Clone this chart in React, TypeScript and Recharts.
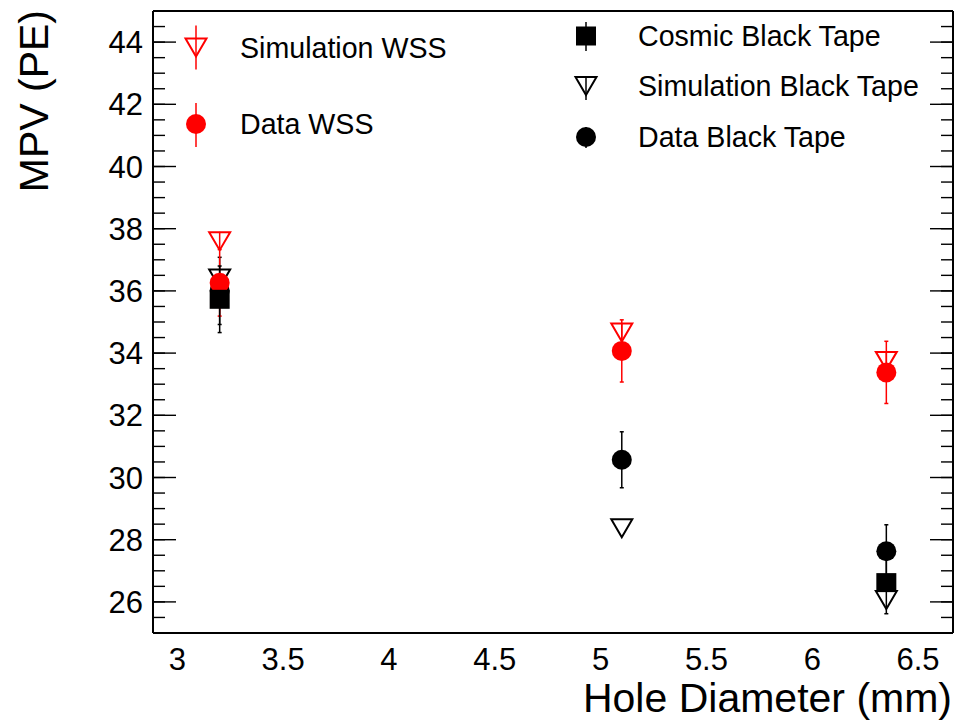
import React from 'react';
import { ScatterChart, Scatter, XAxis, YAxis, ErrorBar, Legend } from 'recharts';

// ---------------- data ----------------
const holeDiameters = [3.2, 5.1, 6.35];
const simWSS = [37.6, 34.66, 33.75];
const simWSSErr = [0.3, 0.3, 0.3];
const dataWSS = [36.26, 34.07, 33.38];
const dataWSSErr = [1.07, 1.0, 1.0];
const cosmicDiameters = [3.2, 6.35];
const cosmicBT = [35.73, 26.62];
const cosmicBTErr = [1.07, 1.0];
const simBT = [36.4, 28.37, 26.06];
const simBTErr = [0, 0, 0];
const dataBT = [36.0, 30.57, 27.63];
const dataBTErr = [1.08, 0.9, 0.85];

const xMajorTicks = [3, 3.5, 4, 4.5, 5, 5.5, 6, 6.5];
const yMajorTicks = [26, 28, 30, 32, 34, 36, 38, 40, 42, 44];
const xMinorTicks = Array.from({ length: 38 }, (_, i) => Math.round((2.9 + i * 0.1) * 10) / 10);
const yMinorTicks = Array.from({ length: 39 }, (_, i) => 25.5 + i * 0.5);

const X_DOMAIN: [number, number] = [2.885, 6.665];
const Y_DOMAIN: [number, number] = [25, 45];

const xTitle = 'Hole Diameter (mm)';
const yTitle = 'MPV (PE)';

const build = (xs: number[], ys: number[], es: number[]) =>
  xs.map((x, i) => ({ x, y: ys[i], err: es[i] }));

// ---------------- layout ----------------
const W = 960;
const H = 721;
const PLOT_LEFT = 153;
const PLOT_TOP = 11;
const PLOT_RIGHT = 953;
const PLOT_BOTTOM = 633;
const FONT = '"Liberation Sans", Arial, Helvetica, sans-serif';
const RED = '#ff0000';
const BLACK = '#000000';

// ---------------- markers ----------------
const drawMarker = (kind: string, color: string, cx: number, cy: number) => {
  if (kind === 'tri') {
    return (
      <polygon
        points={`${cx - 10.5},${cy - 9} ${cx + 10.5},${cy - 9} ${cx},${cy + 9}`}
        fill="none"
        stroke={color}
        strokeWidth={2}
      />
    );
  }
  if (kind === 'sq') {
    return <rect x={cx - 10} y={cy - 9.5} width={20} height={19} fill={color} />;
  }
  return <circle cx={cx} cy={cy} r={10} fill={color} />;
};

const shapeOf = (kind: string, color: string) => (props: any) => {
  const { cx, cy } = props;
  if (cx == null || cy == null) return <g />;
  return drawMarker(kind, color, cx, cy);
};

// ---------------- legend ----------------
const legendEntries = [
  { label: 'Simulation WSS', kind: 'tri', color: RED, mx: 196, my: 47.5, up: 22, down: 22, tx: 240 },
  { label: 'Data WSS', kind: 'circ', color: RED, mx: 196, my: 124, up: 21, down: 23, tx: 240 },
  { label: 'Cosmic Black Tape', kind: 'sq', color: BLACK, mx: 586, my: 36, up: 14, down: 15, tx: 638 },
  { label: 'Simulation Black Tape', kind: 'tri', color: BLACK, mx: 586, my: 86, up: 9, down: 14, tx: 638 },
  { label: 'Data Black Tape', kind: 'circ', color: BLACK, mx: 586, my: 137, up: 10, down: 11, tx: 638 },
];

const LegendContent = () => (
  <svg width={W} height={170} style={{ position: 'absolute', left: 0, top: 0, overflow: 'visible' }}>
    {legendEntries.map((e) => (
      <g key={e.label}>
        <line x1={e.mx} x2={e.mx} y1={e.my - e.up} y2={e.my + e.down} stroke={e.color} strokeWidth={1.5} />
        {drawMarker(e.kind, e.color, e.mx, e.my)}
        <text x={e.tx} y={e.my + 10} fontSize={28.6} fontFamily={FONT} fill="#000">
          {e.label}
        </text>
      </g>
    ))}
  </svg>
);

const tickStyle = { fontSize: 31, fill: '#000', fontFamily: FONT };
const tickLineStyle = { stroke: '#000', strokeWidth: 1.4 };
const frameLine = { stroke: '#000', strokeWidth: 2 };
const noLabel = () => <g />;

const XTitle = () => (
  <text x={PLOT_RIGHT - 1} y={712} textAnchor="end" fontSize={41} fontFamily={FONT} fill="#000">
    {xTitle}
  </text>
);
const YTitle = () => (
  <text
    x={48}
    y={10}
    textAnchor="end"
    transform="rotate(-90, 48, 10)"
    fontSize={41}
    fontFamily={FONT}
    fill="#000"
  >
    {yTitle}
  </text>
);

const common = { type: 'number' as const, interval: 0 as const, tick: noLabel, axisLine: false, tickLine: tickLineStyle, allowDataOverflow: true, mirror: true };

export default function App() {
  return (
    <div style={{ position: 'absolute', left: 0, top: 0, width: W, height: H, background: '#fff' }}>
      <ScatterChart
        width={W}
        height={H}
        margin={{ top: PLOT_TOP, right: W - PLOT_RIGHT, bottom: 0, left: 0 }}
      >
        {/* main labelled axes */}
        <XAxis
          xAxisId="x"
          type="number"
          dataKey="x"
          domain={X_DOMAIN}
          ticks={xMajorTicks}
          interval={0}
          allowDataOverflow
          height={H - PLOT_BOTTOM}
          tickLine={false}
          tickSize={0}
          tickMargin={15}
          axisLine={frameLine}
          tick={tickStyle}
          label={() => <XTitle />}
        />
        <YAxis
          yAxisId="y"
          type="number"
          dataKey="y"
          domain={Y_DOMAIN}
          ticks={yMajorTicks}
          interval={0}
          allowDataOverflow
          width={PLOT_LEFT}
          tickLine={false}
          tickSize={0}
          tickMargin={10}
          axisLine={frameLine}
          tick={tickStyle}
          label={() => <YTitle />}
        />
        {/* inward tick marks: bottom */}
        <XAxis xAxisId="bMaj" orientation="bottom" height={1} domain={X_DOMAIN} ticks={xMajorTicks} tickSize={18} {...common} />
        <XAxis xAxisId="bMin" orientation="bottom" height={1} domain={X_DOMAIN} ticks={xMinorTicks} tickSize={11} {...common} />
        {/* top */}
        <XAxis xAxisId="tMaj" orientation="top" height={1} domain={X_DOMAIN} ticks={xMajorTicks} tickSize={18} {...common} axisLine={frameLine} />
        <XAxis xAxisId="tMin" orientation="top" height={1} domain={X_DOMAIN} ticks={xMinorTicks} tickSize={11} {...common} />
        {/* left */}
        <YAxis yAxisId="lMaj" orientation="left" width={1} domain={Y_DOMAIN} ticks={yMajorTicks} tickSize={23} {...common} />
        <YAxis yAxisId="lMin" orientation="left" width={1} domain={Y_DOMAIN} ticks={yMinorTicks} tickSize={11} {...common} />
        {/* right */}
        <YAxis yAxisId="rMaj" orientation="right" width={1} domain={Y_DOMAIN} ticks={yMajorTicks} tickSize={23} {...common} axisLine={frameLine} />
        <YAxis yAxisId="rMin" orientation="right" width={1} domain={Y_DOMAIN} ticks={yMinorTicks} tickSize={11} {...common} />

        <Legend
          layout="vertical"
          align="center"
          verticalAlign="middle"
          content={() => <LegendContent />}
          wrapperStyle={{ position: 'absolute', left: 0, top: 0, width: W, height: 170 }}
        />

        <Scatter name="Data Black Tape" xAxisId="x" yAxisId="y" data={build(holeDiameters, dataBT, dataBTErr)} shape={shapeOf('circ', BLACK)} isAnimationActive={false}>
          <ErrorBar dataKey="err" direction="y" width={2} stroke={BLACK} strokeWidth={1.5} isAnimationActive={false} />
        </Scatter>
        <Scatter name="Simulation Black Tape" xAxisId="x" yAxisId="y" data={build(holeDiameters, simBT, simBTErr)} shape={shapeOf('tri', BLACK)} isAnimationActive={false} />
        <Scatter name="Simulation WSS" xAxisId="x" yAxisId="y" data={build(holeDiameters, simWSS, simWSSErr)} shape={shapeOf('tri', RED)} isAnimationActive={false}>
          <ErrorBar dataKey="err" direction="y" width={0} stroke={RED} strokeWidth={1.5} isAnimationActive={false} />
        </Scatter>
        <Scatter name="Data WSS" xAxisId="x" yAxisId="y" data={build(holeDiameters, dataWSS, dataWSSErr)} shape={shapeOf('circ', RED)} isAnimationActive={false}>
          <ErrorBar dataKey="err" direction="y" width={2} stroke={RED} strokeWidth={1.5} isAnimationActive={false} />
        </Scatter>
        <Scatter name="Cosmic Black Tape" xAxisId="x" yAxisId="y" data={build(cosmicDiameters, cosmicBT, cosmicBTErr)} shape={shapeOf('sq', BLACK)} isAnimationActive={false}>
          <ErrorBar dataKey="err" direction="y" width={2} stroke={BLACK} strokeWidth={1.5} isAnimationActive={false} />
        </Scatter>
      </ScatterChart>
    </div>
  );
}
